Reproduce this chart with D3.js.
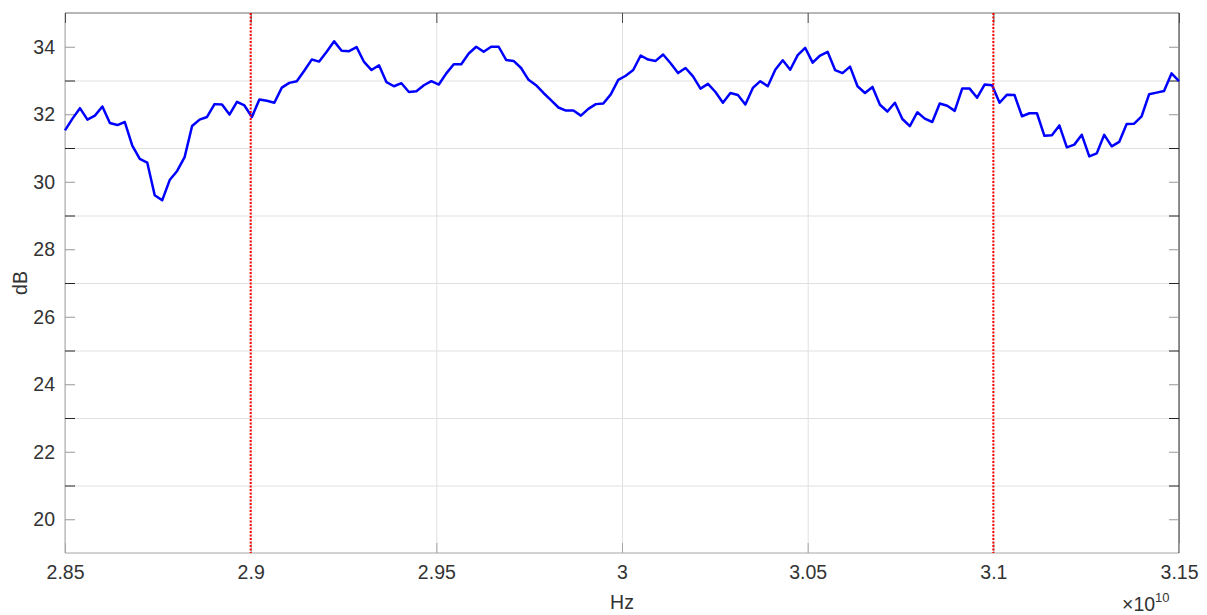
<!DOCTYPE html>
<html>
<head>
<meta charset="utf-8">
<script src="https://cdn.jsdelivr.net/npm/d3@7"></script>
<style>
  body { margin: 0; background: #fff; }
  svg { display: block; font-family: "Liberation Sans", Arial, sans-serif; }
  .domain { display: none; }
</style>
</head>
<body>
<script>
// frequency sweep, 150 samples from 28.5 GHz to 31.5 GHz
var freqStart = 2.85e10, freqStop = 3.15e10;

var levels = [
  31.52, 31.87, 32.18, 31.84, 31.96, 32.23, 31.74, 31.68, 31.77, 31.07,
  30.68, 30.57, 29.60, 29.45, 30.05, 30.32, 30.73, 31.65, 31.84, 31.92,
  32.30, 32.29, 31.99, 32.37, 32.26, 31.92, 32.44, 32.40, 32.34, 32.79,
  32.93, 32.98, 33.29, 33.62, 33.56, 33.85, 34.16, 33.88, 33.87, 33.99,
  33.55, 33.31, 33.45, 32.95, 32.83, 32.92, 32.66, 32.68, 32.86, 32.98,
  32.88, 33.21, 33.48, 33.48, 33.80, 34.00, 33.85, 34.00, 34.00, 33.61,
  33.58, 33.37, 33.02, 32.86, 32.63, 32.42, 32.20, 32.11, 32.11, 31.96,
  32.16, 32.30, 32.32, 32.59, 33.02, 33.14, 33.31, 33.74, 33.62, 33.58,
  33.77, 33.51, 33.22, 33.37, 33.12, 32.76, 32.90, 32.66, 32.34, 32.63,
  32.57, 32.29, 32.78, 32.98, 32.83, 33.32, 33.60, 33.32, 33.75, 33.97,
  33.53, 33.74, 33.85, 33.31, 33.22, 33.41, 32.83, 32.63, 32.81, 32.28,
  32.08, 32.34, 31.86, 31.65, 32.06, 31.87, 31.77, 32.32, 32.25, 32.10,
  32.76, 32.76, 32.49, 32.88, 32.86, 32.34, 32.58, 32.57, 31.94, 32.03,
  32.03, 31.36, 31.38, 31.67, 31.02, 31.10, 31.39, 30.75, 30.84, 31.39,
  31.05, 31.18, 31.71, 31.72, 31.94, 32.59, 32.64, 32.69, 33.21, 32.98
];

// band edge markers
var markers = [2.9e10, 3.1e10];

var xTicks = [2.85e10, 2.9e10, 2.95e10, 3.0e10, 3.05e10, 3.1e10, 3.15e10];
var xTickLabels = ["2.85", "2.9", "2.95", "3", "3.05", "3.1", "3.15"];
var yLabelTicks = [20, 22, 24, 26, 28, 30, 32, 34];
var yGridTicks = [21, 23, 25, 27, 29, 31, 33];

var W = 1207, H = 615;
var plotL = 65, plotR = 1179, plotT = 13, plotB = 553;
var textCol = "#333";

var data = levels.map(function(v, i) {
  return { f: freqStart + i * (freqStop - freqStart) / (levels.length - 1), db: v };
});

var svg = d3.select("body").append("svg")
  .attr("width", W)
  .attr("height", H);

var x = d3.scaleLinear().domain([freqStart, freqStop]).range([plotL, plotR]);
var y = d3.scaleLinear().domain([19, 35]).range([plotB, plotT]);

// grid
svg.append("g")
  .attr("transform", "translate(" + plotL + ",0)")
  .call(d3.axisLeft(y).tickValues(yGridTicks).tickSize(-(plotR - plotL)).tickFormat(""))
  .selectAll("line").attr("stroke", "#e0e0e0");

svg.append("g")
  .attr("transform", "translate(0," + plotB + ")")
  .call(d3.axisBottom(x).tickValues(xTicks).tickSize(-(plotB - plotT)).tickFormat(""))
  .selectAll("line").attr("stroke", "#e0e0e0");

// box
svg.append("line").attr("x1", plotL).attr("x2", plotL).attr("y1", plotT).attr("y2", plotB)
  .attr("stroke", "#a6a6a6");
svg.append("line").attr("x1", plotL).attr("x2", plotR).attr("y1", plotB).attr("y2", plotB)
  .attr("stroke", "#a6a6a6");
svg.append("line").attr("x1", plotL).attr("x2", plotR).attr("y1", plotT).attr("y2", plotT)
  .attr("stroke", "#6e6e6e");
svg.append("line").attr("x1", plotR).attr("x2", plotR).attr("y1", plotT).attr("y2", plotB)
  .attr("stroke", "#262626");

// y ticks, labelled ones and the odd minor ones
var yAxisL = svg.append("g")
  .attr("transform", "translate(" + plotL + ",0)")
  .call(d3.axisLeft(y).tickValues(yLabelTicks).tickSize(-10).tickPadding(10)
    .tickFormat(d3.format("d")));
yAxisL.selectAll("line").attr("stroke", "#999");
yAxisL.selectAll("text")
  .attr("fill", textCol)
  .style("font-size", "19.5px");

svg.append("g")
  .attr("transform", "translate(" + plotL + ",0)")
  .call(d3.axisLeft(y).tickValues(yGridTicks).tickSize(-10).tickFormat(""))
  .selectAll("line").attr("stroke", "#262626");

svg.append("g")
  .attr("transform", "translate(" + plotR + ",0)")
  .call(d3.axisRight(y).tickValues(yLabelTicks).tickSize(-10).tickFormat(""))
  .selectAll("line").attr("stroke", "#999");

svg.append("g")
  .attr("transform", "translate(" + plotR + ",0)")
  .call(d3.axisRight(y).tickValues(yGridTicks).tickSize(-10).tickFormat(""))
  .selectAll("line").attr("stroke", "#262626");

// x ticks
var xAxisB = svg.append("g")
  .attr("transform", "translate(0," + plotB + ")")
  .call(d3.axisBottom(x).tickValues(xTicks).tickSize(-10).tickPadding(12)
    .tickFormat(function(d, i) { return xTickLabels[i]; }));
xAxisB.selectAll("line").attr("stroke", "#a6a6a6");
xAxisB.selectAll("text")
  .attr("fill", textCol)
  .style("font-size", "19.5px");

svg.append("g")
  .attr("transform", "translate(0," + plotT + ")")
  .call(d3.axisTop(x).tickValues(xTicks).tickSize(-10).tickFormat(""))
  .selectAll("line").attr("stroke", "#4d4d4d");

// data line
svg.append("path")
  .datum(data)
  .attr("fill", "none")
  .attr("stroke", "#0000ff")
  .attr("stroke-width", 2.5)
  .attr("stroke-linejoin", "round")
  .attr("d", d3.line()
    .x(function(d) { return x(d.f); })
    .y(function(d) { return y(d.db); }));

// red dotted markers
svg.selectAll(".marker")
  .data(markers)
  .enter()
  .append("line")
    .attr("class", "marker")
    .attr("x1", function(d) { return x(d); })
    .attr("x2", function(d) { return x(d); })
    .attr("y1", plotT)
    .attr("y2", plotB)
    .attr("stroke", "#ff0000")
    .attr("stroke-width", 2)
    .attr("stroke-dasharray", "2,1.5");

// axis titles
svg.append("text")
  .attr("x", (plotL + plotR) / 2)
  .attr("y", 609)
  .attr("text-anchor", "middle")
  .attr("fill", textCol)
  .style("font-size", "19.5px")
  .text("Hz");

svg.append("text")
  .attr("transform", "translate(27," + ((plotT + plotB) / 2) + ") rotate(-90)")
  .attr("text-anchor", "middle")
  .attr("fill", textCol)
  .style("font-size", "19.5px")
  .text("dB");

var expo = svg.append("text")
  .attr("x", 1122)
  .attr("y", 611)
  .attr("fill", textCol)
  .style("font-size", "19.5px");
expo.append("tspan").text("\u00d710");
expo.append("tspan")
  .attr("dy", -9)
  .style("font-size", "13px")
  .text("10");
</script>
</body>
</html>
